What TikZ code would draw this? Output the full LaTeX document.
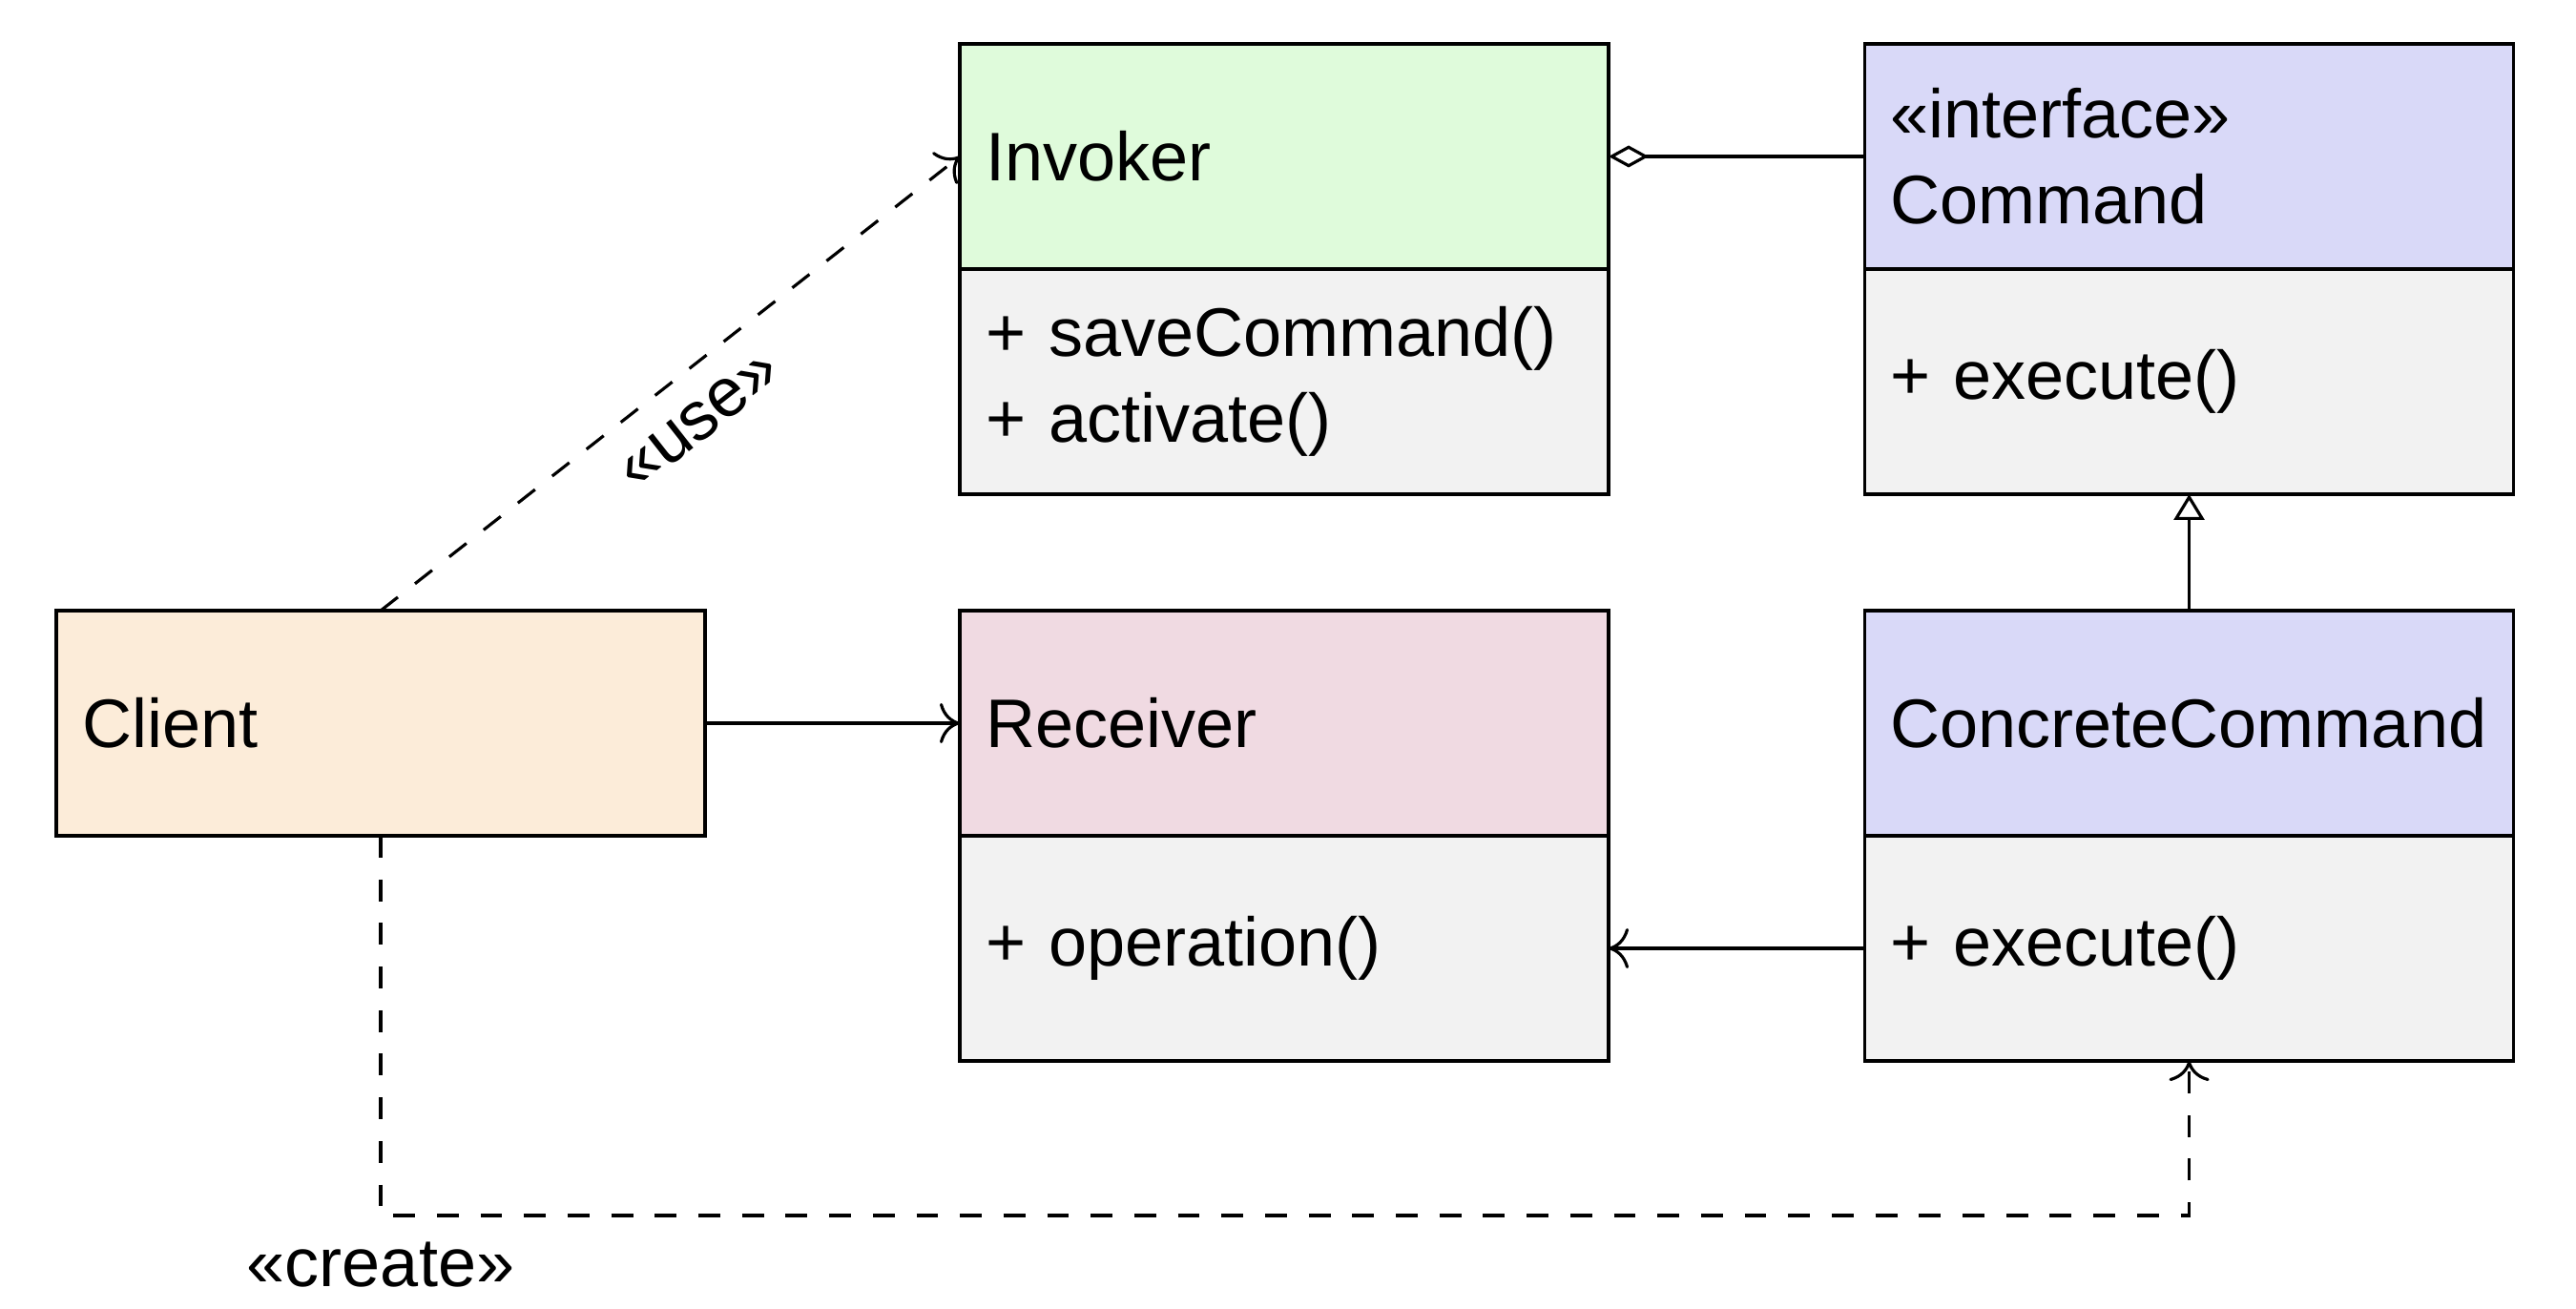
\documentclass[tikz,border=0pt]{standalone}
\usepackage{fontspec}
\setmainfont{Liberation Sans}
\usetikzlibrary{arrows.meta, positioning}

\definecolor{invokerfill}{RGB}{223,251,219}
\definecolor{commandfill}{RGB}{217,217,248}
\definecolor{clientfill}{RGB}{252,236,217}
\definecolor{receiverfill}{RGB}{240,218,226}
\definecolor{opsfill}{RGB}{242,242,242}

\tikzset{
    classbox/.style={draw, line width=0.9pt, rectangle, outer sep=0pt, inner xsep=0.27cm,
        minimum width=6.8cm, minimum height=2.36cm, text width=6.26cm, align=left,
        font=\fontsize{20.5}{25.5}\selectfont},
    opsbox/.style={classbox, fill=opsfill},
    conn/.style={line width=0.9pt},
    dep/.style={conn, dash pattern=on 6.5pt off 6.5pt},
    openarrow/.style={-{To[length=6pt, width=12pt]}},
    lbl/.style={font=\fontsize{20.5}{25.5}\selectfont}
}

\begin{document}
\begin{tikzpicture}
    \useasboundingbox (0,0) rectangle (27,-13.72);

    \node[classbox, fill=invokerfill] (invoker) at (13.46,-1.64) {Invoker}; % Invoker
    \node[opsbox, below=0pt of invoker] (invokerops) {+ saveCommand()\\+ activate()};
    \node[classbox, fill=commandfill] (command) at (22.945,-1.64) {«interface»\\Command}; % Command
    \node[opsbox, below=0pt of command] (commandops) {+ execute()};
    \node[classbox, fill=clientfill] (client) at (3.99,-7.58) {Client}; % Client
    \node[classbox, fill=receiverfill] (receiver) at (13.46,-7.58) {Receiver}; % Receiver
    \node[opsbox, below=0pt of receiver] (receiverops) {+ operation()};
    \node[classbox, fill=commandfill] (concrete) at (22.945,-7.58) {ConcreteCommand}; % ConcreteCommand
    \node[opsbox, below=0pt of concrete] (concreteops) {+ execute()};

    \draw[dep, openarrow] (client.north) -- (invoker.west)
        node[midway, below=7pt, sloped, lbl, inner sep=1pt] {«use»}; % use
    \draw[conn, {Diamond[open, length=0.42cm, width=0.23cm]}-] (invoker.east) -- (command.west); % aggregation
    \draw[conn, -{Triangle[open, length=0.27cm, width=0.32cm]}] (concrete.north) -- (commandops.south); % realisation
    \draw[conn, openarrow] (client.east) -- (receiver.west);
    \draw[conn, openarrow] (concreteops.west) -- (receiverops.east);

    \coordinate (bend) at (3.99,-12.74);
    \draw[dep, openarrow] (client.south) -- (bend) -| (concreteops.south); % create
    \node[lbl, below=0.15cm of bend] (createlbl) {«create»};
\end{tikzpicture}
\end{document}
